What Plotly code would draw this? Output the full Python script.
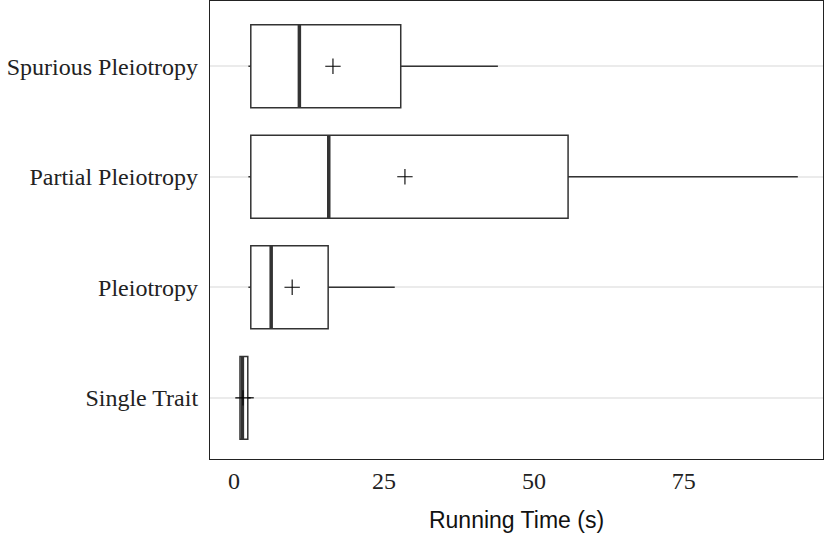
import plotly.graph_objects as go

categories = ["Single Trait", "Pleiotropy", "Partial Pleiotropy", "Spurious Pleiotropy"]
lower = [0.9, 2.4, 2.4, 2.4]
q1 = [1.0, 2.8, 2.8, 2.8]
median = [1.4, 6.2, 15.8, 10.9]
q3 = [2.3, 15.7, 55.7, 27.8]
upper = [3.3, 26.8, 94.0, 44.0]
mean = [1.5, 9.7, 28.5, 16.5]

xticks = [0, 25, 50, 75]
pos = list(range(len(categories)))
box_w = 0.75

fig = go.Figure()
fig.add_trace(go.Box(
    y=pos, q1=q1, median=median, q3=q3, lowerfence=lower, upperfence=upper,
    orientation="h", width=box_w, whiskerwidth=0,
    fillcolor="white", line=dict(color="#333333", width=1.5),
    boxpoints=False, showlegend=False, hoverinfo="skip",
))
for i, m in enumerate(median):
    fig.add_trace(go.Scatter(
        x=[m, m], y=[pos[i] - box_w / 2, pos[i] + box_w / 2], mode="lines",
        line=dict(color="#333333", width=3.5), showlegend=False, hoverinfo="skip",
    ))
fig.add_trace(go.Scatter(
    x=mean, y=pos, mode="markers",
    marker=dict(symbol="cross-thin", size=11, line=dict(color="black", width=1.1)),
    showlegend=False, hoverinfo="skip",
))

fig.update_layout(
    width=826, height=533, plot_bgcolor="white", paper_bgcolor="white",
    margin=dict(l=210, r=3, t=1, b=74),
    xaxis=dict(
        range=[-4, 98.2], tickvals=xticks, ticktext=[str(t) for t in xticks],
        showgrid=False, zeroline=False, showline=True, mirror=True,
        linecolor="#222222", linewidth=1.2, ticks="", ticklabelstandoff=0,
        automargin=False,
        tickfont=dict(family="Liberation Serif", size=24, color="#222222"),
        title=dict(text="Running Time (s)", standoff=20,
                   font=dict(family="Liberation Sans", size=23, color="#111111")),
    ),
    yaxis=dict(
        range=[-0.553, 3.59], tickvals=pos, ticktext=categories,
        showgrid=True, gridcolor="#ebebeb", gridwidth=2, zeroline=False,
        showline=True, mirror=True, linecolor="#222222", linewidth=1.2,
        ticks="", ticklabelstandoff=6, automargin=False,
        tickfont=dict(family="Liberation Serif", size=24, color="#222222"),
    ),
)
fig.write_html("out.html", config={"displayModeBar": False},
               post_script="document.body.style.margin='0';")
